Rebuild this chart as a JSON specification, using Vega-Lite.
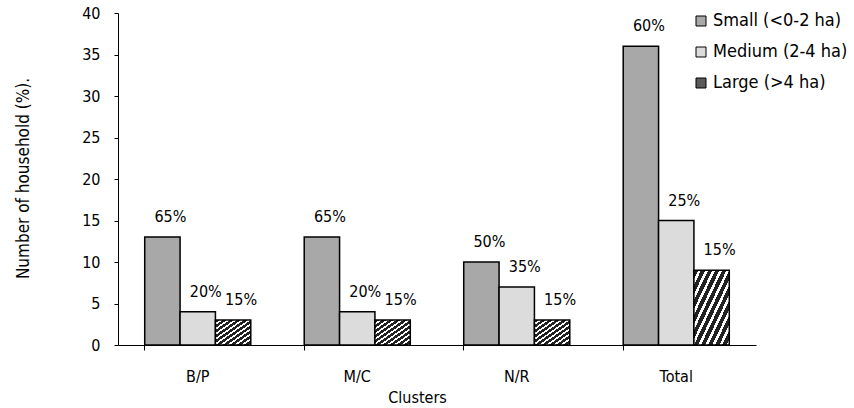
{
  "$schema": "https://vega.github.io/schema/vega-lite/v6.json",
  "width": 638,
  "height": 332,
  "autosize": {"type": "none"},
  "padding": {"left": 118, "top": 13, "right": 98, "bottom": 63},
  "background": "white",
  "config": {
    "view": {"stroke": null},
    "font": "DejaVu Sans Condensed",
    "axis": {"labelFont": "DejaVu Sans Condensed", "titleFont": "DejaVu Sans Condensed", "labelColor": "black", "titleColor": "black", "domainColor": "black", "tickColor": "black", "grid": false, "titleFontWeight": "normal"}
  },
  "data": {
    "values": [
      {"cluster": "B/P", "size": "Small (<0-2 ha)", "value": 13, "label": "65%"},
      {"cluster": "B/P", "size": "Medium (2-4 ha)", "value": 4, "label": "20%"},
      {"cluster": "B/P", "size": "Large (>4 ha)", "value": 3, "label": "15%"},
      {"cluster": "M/C", "size": "Small (<0-2 ha)", "value": 13, "label": "65%"},
      {"cluster": "M/C", "size": "Medium (2-4 ha)", "value": 4, "label": "20%"},
      {"cluster": "M/C", "size": "Large (>4 ha)", "value": 3, "label": "15%"},
      {"cluster": "N/R", "size": "Small (<0-2 ha)", "value": 10, "label": "50%"},
      {"cluster": "N/R", "size": "Medium (2-4 ha)", "value": 7, "label": "35%"},
      {"cluster": "N/R", "size": "Large (>4 ha)", "value": 3, "label": "15%"},
      {"cluster": "Total", "size": "Small (<0-2 ha)", "value": 36, "label": "60%"},
      {"cluster": "Total", "size": "Medium (2-4 ha)", "value": 15, "label": "25%"},
      {"cluster": "Total", "size": "Large (>4 ha)", "value": 9, "label": "15%"}
    ]
  },
  "encoding": {
    "x": {
      "field": "cluster", "type": "nominal", "sort": ["B/P", "M/C", "N/R", "Total"],
      "scale": {"paddingInner": 0.335, "paddingOuter": 0.1675},
      "axis": {"title": "Clusters", "labelAngle": 0, "labelFontSize": 16, "titleFontSize": 16, "labelPadding": 18, "bandPosition": 0, "tickSize": 5, "titleX": 299, "titleY": 52, "titleBaseline": "middle", "titleAlign": "center"}
    },
    "xOffset": {"field": "size", "type": "nominal", "sort": ["Small (<0-2 ha)", "Medium (2-4 ha)", "Large (>4 ha)"]},
    "y": {
      "field": "value", "type": "quantitative",
      "scale": {"domain": [0, 40]},
      "axis": {"title": "Number of household (%).", "values": [0,5,10,15,20,25,30,35,40], "labelFontSize": 16, "titleFontSize": 17, "tickSize": 4, "labelPadding": 14, "titleX": -95, "titleY": 165, "titleAngle": 270, "titleBaseline": "middle", "titleAlign": "center"}
    }
  },
  "layer": [
    {
      "mark": {"type": "bar", "stroke": "black", "strokeWidth": 1.5},
      "encoding": {
        "fill": {
          "condition": {"test": "datum.size === 'Large (>4 ha)'", "value": {"gradient": "linear", "x1": 0, "y1": 0, "x2": 1, "y2": 1, "stops": [
              {"offset": 0, "color": "#222"}, {"offset": 0.06, "color": "#222"}, {"offset": 0.06, "color": "#fff"}, {"offset": 0.1, "color": "#fff"},
              {"offset": 0.1, "color": "#222"}, {"offset": 0.16, "color": "#222"}, {"offset": 0.16, "color": "#fff"}, {"offset": 0.2, "color": "#fff"},
              {"offset": 0.2, "color": "#222"}, {"offset": 0.26, "color": "#222"}, {"offset": 0.26, "color": "#fff"}, {"offset": 0.3, "color": "#fff"},
              {"offset": 0.3, "color": "#222"}, {"offset": 0.36, "color": "#222"}, {"offset": 0.36, "color": "#fff"}, {"offset": 0.4, "color": "#fff"},
              {"offset": 0.4, "color": "#222"}, {"offset": 0.46, "color": "#222"}, {"offset": 0.46, "color": "#fff"}, {"offset": 0.5, "color": "#fff"},
              {"offset": 0.5, "color": "#222"}, {"offset": 0.56, "color": "#222"}, {"offset": 0.56, "color": "#fff"}, {"offset": 0.6, "color": "#fff"},
              {"offset": 0.6, "color": "#222"}, {"offset": 0.66, "color": "#222"}, {"offset": 0.66, "color": "#fff"}, {"offset": 0.7, "color": "#fff"},
              {"offset": 0.7, "color": "#222"}, {"offset": 0.76, "color": "#222"}, {"offset": 0.76, "color": "#fff"}, {"offset": 0.8, "color": "#fff"},
              {"offset": 0.8, "color": "#222"}, {"offset": 0.86, "color": "#222"}, {"offset": 0.86, "color": "#fff"}, {"offset": 0.9, "color": "#fff"},
              {"offset": 0.9, "color": "#222"}, {"offset": 0.96, "color": "#222"}, {"offset": 0.96, "color": "#fff"}, {"offset": 1, "color": "#fff"}
            ]}},
          "field": "size", "type": "nominal",
          "sort": ["Small (<0-2 ha)", "Medium (2-4 ha)", "Large (>4 ha)"],
          "scale": {"domain": ["Small (<0-2 ha)", "Medium (2-4 ha)", "Large (>4 ha)"], "range": ["#a8a8a8", "#dcdcdc", "#5a5a5a"]},
          "legend": {
            "title": null, "orient": "none", "legendX": 574, "legendY": -1,
            "symbolType": "square", "symbolSize": 100, "symbolStrokeColor": "black", "symbolStrokeWidth": 1,
            "labelFontSize": 18, "labelColor": "black", "labelFont": "DejaVu Sans Condensed", "rowPadding": 13, "labelOffset": 3, "labelLimit": 300
          }
        }
      }
    },
    {
      "mark": {"type": "text", "dy": -20, "dx": 8, "fontSize": 16, "color": "black"},
      "encoding": {"text": {"field": "label"}}
    }
  ]
}
